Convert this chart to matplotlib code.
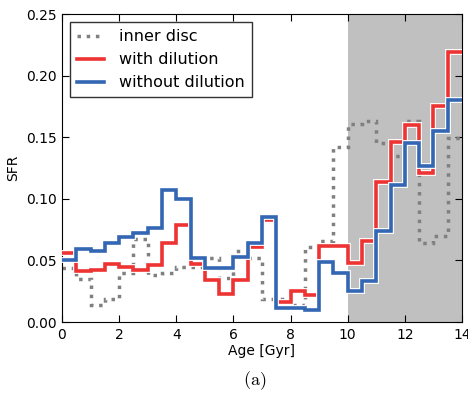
import matplotlib
matplotlib.use("Agg")
import matplotlib.pyplot as plt
import matplotlib.patheffects as pe
import numpy as np

# Bin edges (Gyr) and star formation rate per bin
edges = np.arange(0, 14.5, 0.5)

inner_disc = [0.044, 0.035, 0.014, 0.019, 0.040, 0.067, 0.038, 0.040, 0.045, 0.045,
              0.052, 0.036, 0.058, 0.052, 0.019, 0.019, 0.014, 0.061, 0.066, 0.142,
              0.161, 0.163, 0.145, 0.135, 0.163, 0.064, 0.070, 0.149]
with_dilution = [0.056, 0.041, 0.042, 0.047, 0.045, 0.042, 0.046, 0.064, 0.079, 0.047,
                 0.034, 0.023, 0.034, 0.061, 0.083, 0.016, 0.025, 0.022, 0.062, 0.062,
                 0.048, 0.066, 0.114, 0.146, 0.160, 0.121, 0.175, 0.219]
without_dilution = [0.050, 0.059, 0.058, 0.064, 0.069, 0.072, 0.076, 0.107, 0.100, 0.052,
                    0.044, 0.044, 0.053, 0.064, 0.085, 0.011, 0.011, 0.010, 0.049, 0.040,
                    0.025, 0.033, 0.074, 0.111, 0.145, 0.127, 0.155, 0.180]

fig = plt.figure(figsize=(4.68, 3.93), dpi=100)
ax = fig.add_axes([62/468, 1 - 322/393, 400/468, 308/393])

ax.axvspan(10, 14, color="#c0c0c0", lw=0, zorder=0)

halo = [pe.withStroke(linewidth=4.2, foreground="white")]
ax.stairs(inner_disc, edges, baseline=None, color="#808080", lw=2.5, ls=":",
          label="inner disc", zorder=2)
ax.stairs(with_dilution, edges, baseline=None, color="#ee3333", lw=2.6,
          label="with dilution", path_effects=halo, zorder=3)
ax.stairs(without_dilution, edges, baseline=None, color="#3366b3", lw=2.6,
          label="without dilution", path_effects=halo, zorder=4)

ax.set_xlim(0, 14)
ax.set_ylim(0, 0.25)
ax.set_xticks(np.arange(0, 15, 2))
ax.set_yticks(np.arange(0, 0.26, 0.05))
ax.set_yticklabels(["%.2f" % v for v in np.arange(0, 0.26, 0.05)])
ax.tick_params(direction="in", top=True, right=True, length=5, labelsize=10, pad=4)
ax.set_xlabel("Age [Gyr]", fontsize=10, labelpad=2)
ax.set_ylabel("SFR", fontsize=10, labelpad=4)

leg = ax.legend(loc="upper left", fontsize=11.5, frameon=True, fancybox=False,
                handlelength=1.7, handletextpad=0.9, borderpad=0.45,
                labelspacing=0.5, borderaxespad=0.5)
leg.get_frame().set_edgecolor("black")
leg.get_frame().set_linewidth(1.0)

fig.text(255/468, 1 - 381/393, r"$\mathrm{(a)}$", ha="center", va="center",
         fontsize=13, math_fontfamily="cm")

fig.savefig("out.png", dpi=100)
